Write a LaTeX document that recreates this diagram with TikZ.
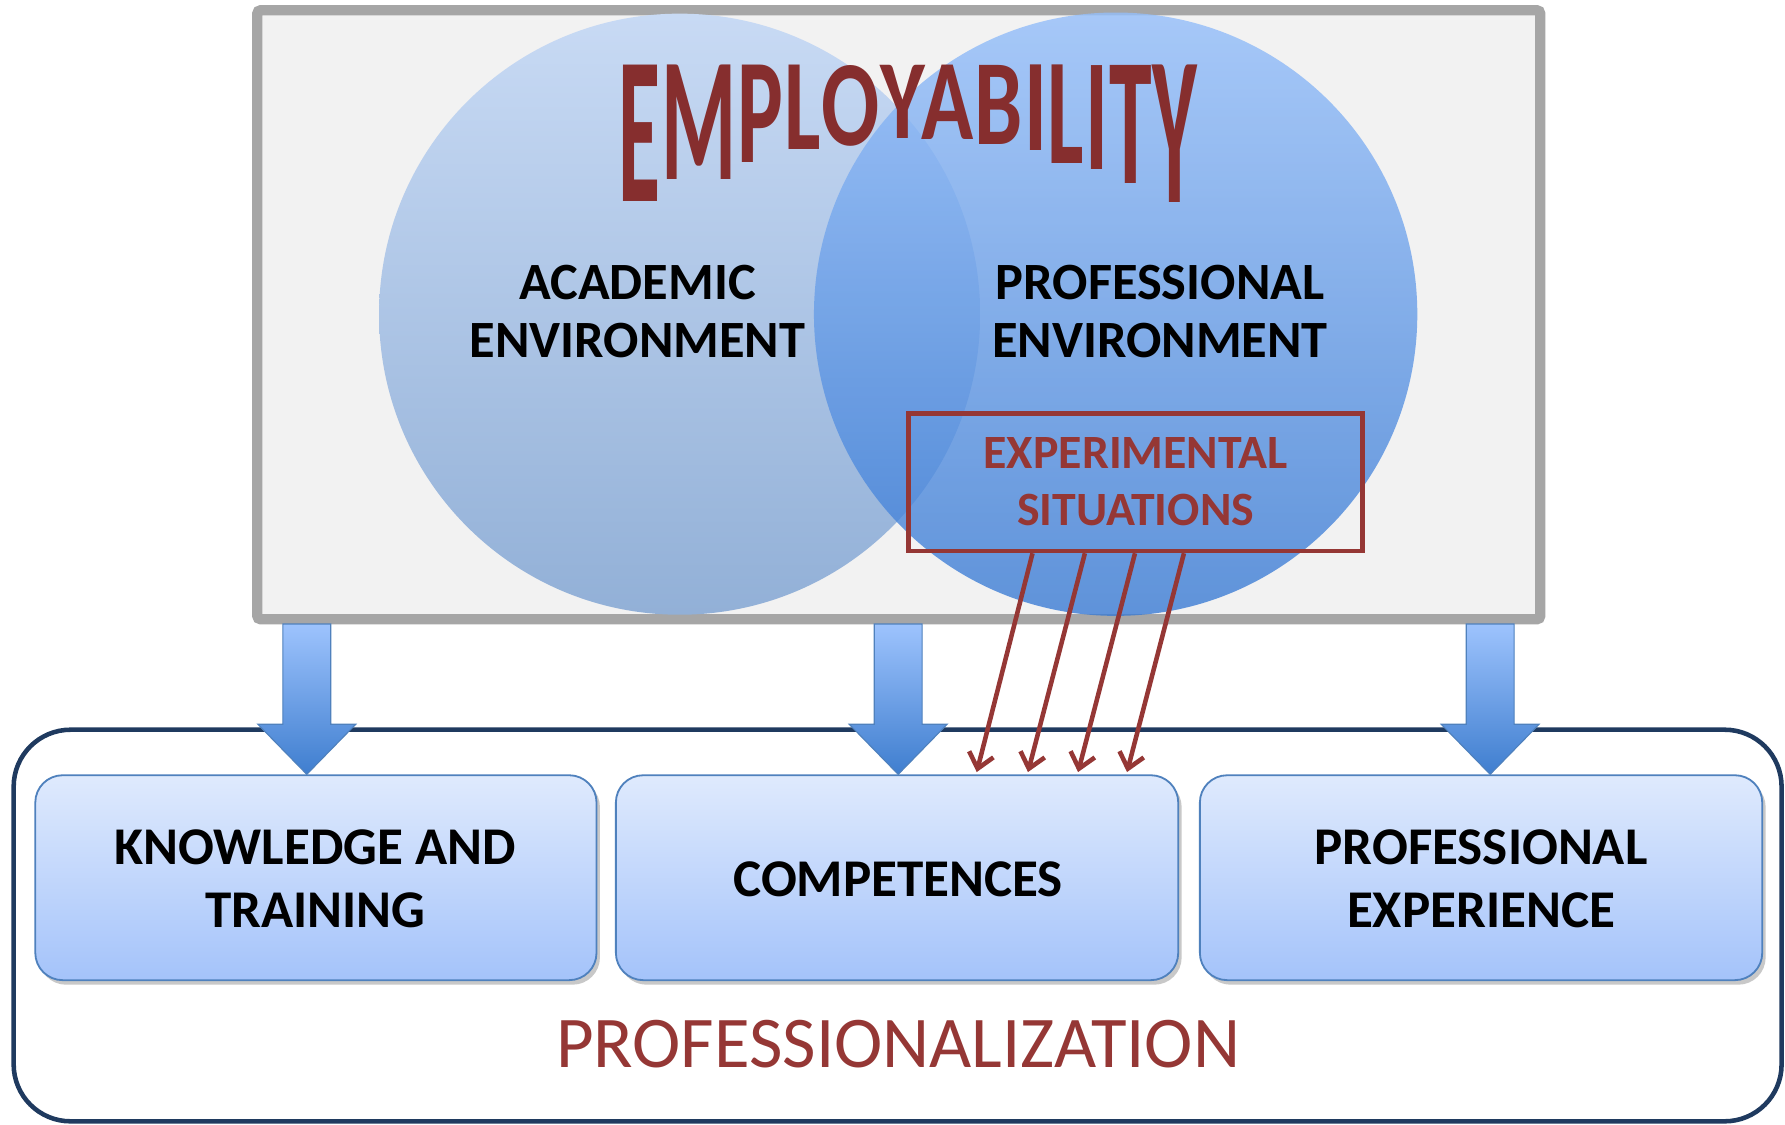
\documentclass[tikz,border=0pt]{standalone}
\usepackage{fontspec}
\setmainfont{Carlito}
\usetikzlibrary{arrows.meta,shadows,calc}
\definecolor{grayline}{HTML}{A6A6A6}
\definecolor{grayfill}{HTML}{F2F2F2}
\definecolor{darkred}{HTML}{953735}
\definecolor{wordred}{HTML}{862E2E}
\definecolor{navy}{HTML}{1F3A5F}
\definecolor{boxborder}{HTML}{4F81BD}
\definecolor{boxtop}{HTML}{DFEAFD}
\definecolor{boxbot}{HTML}{A4C3FA}
\definecolor{lctop}{HTML}{C8DAF4}
\definecolor{lcbot}{HTML}{92B0D7}
\definecolor{rctop}{HTML}{94BEFA}
\definecolor{rcbot}{HTML}{3A7BD4}
\definecolor{arrtop}{HTML}{9DC3FD}
\definecolor{arrbot}{HTML}{3F7ECF}
\newcommand\wlet[2]{\scalebox{0.945}[#1]{#2}}
\begin{document}
\begin{tikzpicture}[x=0.5pt,y=-0.5pt,
  envlbl/.style={font=\fontsize{23}{25.5}\selectfont\bfseries, align=center, text=black, inner sep=0pt},
  boxlbl/.style={font=\fontsize{23.3}{28}\selectfont\bfseries, align=center, text=black},
  pbox/.style={draw=boxborder, line width=0.8pt, rounded corners=12pt, top color=boxtop, bottom color=boxbot,
    minimum width=247pt, minimum height=90pt, inner sep=0pt,
    drop shadow={shadow xshift=1.5pt, shadow yshift=-2pt, opacity=0.3, fill=black!70}},
  wletter/.style={anchor=north west, inner sep=0pt, text=wordred, font=\fontsize{40}{40}\selectfont\bfseries},
  blockarrow/.style={top color=arrtop, bottom color=arrbot, draw=boxborder, line width=0.5pt},
  redarrow/.style={draw=darkred, line width=2pt, -{Straight Barb[length=6.5pt,width=11pt,line width=2pt]}}
]
\useasboundingbox (0,0) rectangle (1568,988);
\fill[white] (0,0) rectangle (1568,988);

% top frame
\draw[grayline, line width=4.5pt, fill=grayfill, rounded corners=1.5pt] (226,9) rectangle (1353,544);

% circles
\shade[top color=lctop, bottom color=lcbot] (597,276) circle (264);
\shade[top color=rctop, bottom color=rcbot, opacity=0.8] (980,276) circle (265);

% title word art
\node[wletter] (w1) at (543,57) {\wlet{2.31}{E}};
\node[wletter] (w2) at (w1.north east) {\wlet{1.94}{M}};
\node[wletter] (w3) at (w2.north east) {\wlet{1.65}{P}};
\node[wletter] (w4) at (w3.north east) {\wlet{1.43}{L}};
\node[wletter] (w5) at (w4.north east) {\wlet{1.34}{O}};
\node[wletter] (w6) at (w5.north east) {\wlet{1.24}{Y}};
\node[wletter] (w7) at ($(w6.north east)+(-4,0)$) {\wlet{1.26}{A}};
\node[wletter] (w8) at (w7.north east) {\wlet{1.34}{B}};
\node[wletter] (w9) at (w8.north east) {\wlet{1.45}{I}};
\node[wletter] (w10) at (w9.north east) {\wlet{1.67}{L}};
\node[wletter] (w11) at (w10.north east) {\wlet{1.76}{I}};
\node[wletter] (w12) at (w11.north east) {\wlet{2.0}{T}};
\node[wletter] (w13) at (w12.north east) {\wlet{2.33}{Y}};

% environment labels
\node[envlbl] (acad) at (560,274) {ACADEMIC\\ENVIRONMENT};
\node[envlbl] (prof) at (1019,274) {PROFESSIONAL\\ENVIRONMENT};

% experimental situations box
\node[draw=darkred, line width=2pt, minimum width=199.5pt, minimum height=60.5pt, inner sep=0pt,
      font=\fontsize{21}{25}\selectfont\bfseries, text=darkred, align=center] (exp) at (997.5,423.5)
      {EXPERIMENTAL\\SITUATIONS};

% professionalization frame
\draw[navy, line width=2pt, fill=white, rounded corners=25pt] (12,641) rectangle (1565,985);
\node[font=\fontsize{32}{32}\selectfont, text=darkred, inner sep=0pt] (pz) at (789,917) {PROFESSIONALIZATION};

% three boxes
\node[pbox, minimum width=246.5pt] (b1) at (277.5,771) {};
\node[pbox] (b2) at (788,771) {};
\node[pbox] (b3) at (1301,771) {};
\node[boxlbl] (t1) at (277,772) {KNOWLEDGE AND\\TRAINING};
\node[boxlbl] (t2) at (789,772) {COMPETENCES};
\node[boxlbl] (t3) at (1301,772) {PROFESSIONAL\\EXPERIENCE};

% blue block arrows
\foreach \b/\dx in {b1/-8, b2/1, b3/8}{
  \shade[blockarrow] ($(\b.north)+(\dx-21,-132)$) -- ++(42,0) -- ++(0,88) -- ++(22,0)
     -- ($(\b.north)+(\dx,0)$) -- ($(\b.north)+(\dx-43,-44)$) -- ++(22,0) -- cycle;
}

% red arrows
\coordinate (s1) at ($(exp.south)+(-90.5,0)$);
\coordinate (s2) at ($(exp.south)+(-44.5,0)$);
\coordinate (s3) at ($(exp.south)+(-0.5,0)$);
\coordinate (s4) at ($(exp.south)+(42.5,0)$);
\coordinate (e1) at ($(b2.north)+(70,-2)$);
\coordinate (e2) at ($(b2.north)+(115,-2)$);
\coordinate (e3) at ($(b2.north)+(159,-2)$);
\coordinate (e4) at ($(b2.north)+(202,-2)$);
\foreach \i in {1,2,3,4}{ \draw[redarrow] (s\i) -- (e\i); }
\end{tikzpicture}
\end{document}
